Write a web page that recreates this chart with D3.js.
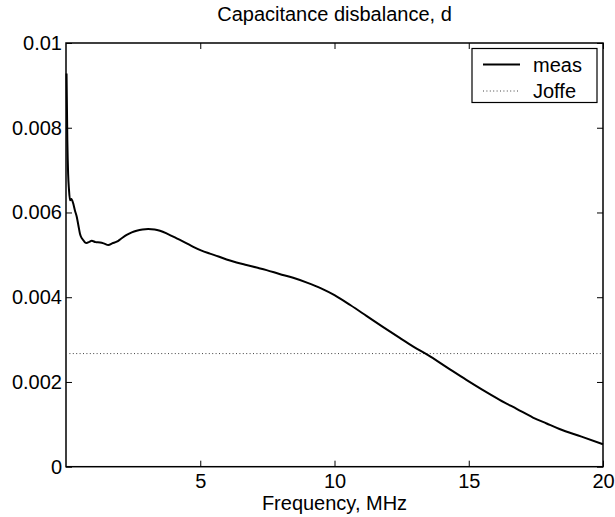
<!DOCTYPE html>
<html>
<head>
<meta charset="utf-8">
<script src="https://cdn.jsdelivr.net/npm/d3@7"></script>
<style>
  body { margin: 0; background: #fff; }
  text { font-family: "Liberation Sans", Arial, sans-serif; }
</style>
</head>
<body>
<svg id="chart" width="615" height="517"></svg>
<script>
// Measured capacitance disbalance vs frequency (MHz)
const freq = [0.02, 0.05, 0.08, 0.11, 0.15, 0.2, 0.27, 0.33, 0.4, 0.46, 0.52, 0.58, 0.64, 0.7, 0.77,
  0.85, 0.96, 1.1, 1.27, 1.4, 1.58, 1.72, 1.89, 2.05, 2.26, 2.45, 2.63, 2.85, 3.06, 3.3, 3.5, 3.8,
  4.12, 4.44, 4.74, 5.05, 5.36, 5.68, 5.98, 6.35, 6.72, 7.1, 7.47, 7.95, 8.46, 9.0, 9.5, 10.0,
  10.6, 11.19, 11.8, 12.43, 12.95, 13.47, 14.2, 14.91, 15.5, 16.15, 16.8, 17.39, 17.9, 18.38, 19.2, 20];
const meas = [0.00928, 0.0077, 0.0069, 0.00655, 0.00629, 0.00632, 0.00621, 0.00605, 0.0059, 0.0057,
  0.0055, 0.0054, 0.00535, 0.0053, 0.00528, 0.0053, 0.00533, 0.0053, 0.00529, 0.00527, 0.00523,
  0.00527, 0.00531, 0.00538, 0.00547, 0.00553, 0.00557, 0.0056, 0.00561, 0.0056, 0.00557, 0.00549,
  0.00539, 0.00529, 0.00519, 0.0051, 0.00503, 0.00496, 0.00489, 0.00482, 0.00476, 0.0047, 0.00464,
  0.00455, 0.00446, 0.00434, 0.00421, 0.00405, 0.00381, 0.00356, 0.0033, 0.00304, 0.00283, 0.00264,
  0.00234, 0.00205, 0.00182, 0.00158, 0.00136, 0.00116, 0.00102, 0.00089, 0.00071, 0.00053];
// Joffe estimate (constant)
const joffe = 0.00267;

const xTicks = [5, 10, 15, 20];
const yTicks = [0, 0.002, 0.004, 0.006, 0.008, 0.01];
const legendLabels = ['meas', 'Joffe'];

// Plot box
const pLeft = 66, pRight = 603, pTop = 43, pBottom = 466.7;

const svg = d3.select('#chart');

const x = d3.scaleLinear().domain([0, 20]).range([pLeft, pRight]);
const y = d3.scaleLinear().domain([0, 0.01]).range([pBottom, pTop]);

const fmtY = d => d === 0 ? '0' : String(+d.toFixed(3));

// Bottom axis (ticks pointing inward)
const gx = svg.append('g')
  .attr('transform', `translate(0,${pBottom})`)
  .call(d3.axisBottom(x).tickValues(xTicks).tickSizeInner(-6).tickSizeOuter(0).tickPadding(7));
// Top axis ticks only
const gxt = svg.append('g')
  .attr('transform', `translate(0,${pTop})`)
  .call(d3.axisTop(x).tickValues(xTicks).tickSizeInner(-6).tickSizeOuter(0).tickFormat(''));
// Left axis
const gy = svg.append('g')
  .attr('transform', `translate(${pLeft},0)`)
  .call(d3.axisLeft(y).tickValues(yTicks).tickSizeInner(-6).tickSizeOuter(0).tickPadding(4).tickFormat(fmtY));
// Right axis ticks only
const gyr = svg.append('g')
  .attr('transform', `translate(${pRight},0)`)
  .call(d3.axisRight(y).tickValues(yTicks).tickSizeInner(-6).tickSizeOuter(0).tickFormat(''));

[gx, gxt, gy, gyr].forEach(g => {
  g.select('.domain').remove();
  g.selectAll('line').attr('stroke', '#000').attr('stroke-width', 1);
  g.selectAll('text').attr('fill', '#000').style('font-size', '20px')
    .style('font-family', '"Liberation Sans", Arial, sans-serif');
});

// Box
svg.append('rect')
  .attr('x', pLeft).attr('y', pTop)
  .attr('width', pRight - pLeft).attr('height', pBottom - pTop)
  .attr('fill', 'none').attr('stroke', '#000').attr('stroke-width', 1.5);

// Joffe dotted line
svg.append('line')
  .attr('x1', x(0)).attr('x2', x(20))
  .attr('y1', y(joffe)).attr('y2', y(joffe))
  .attr('stroke', '#444').attr('stroke-width', 1)
  .attr('stroke-dasharray', '1,2.4');

// Measured curve (smoothed between read points)
const line = d3.line()
  .x((d, i) => x(freq[i]))
  .y(d => y(d))
  .curve(d3.curveMonotoneX);

svg.append('path')
  .datum(meas)
  .attr('fill', 'none')
  .attr('stroke', '#000')
  .attr('stroke-width', 2)
  .attr('stroke-linejoin', 'round')
  .attr('d', line);

// Title and x label
svg.append('text')
  .attr('x', (pLeft + pRight) / 2).attr('y', 21)
  .attr('text-anchor', 'middle')
  .style('font-size', '20px')
  .text('Capacitance disbalance, d');

svg.append('text')
  .attr('x', (pLeft + pRight) / 2).attr('y', 510)
  .attr('text-anchor', 'middle')
  .style('font-size', '20px')
  .text('Frequency, MHz');

// Legend
const lg = svg.append('g');
lg.append('rect')
  .attr('x', 472).attr('y', 48.5)
  .attr('width', 125).attr('height', 54)
  .attr('fill', '#fff').attr('stroke', '#000').attr('stroke-width', 1.2);

legendLabels.forEach((lab, i) => {
  const cy = 64.5 + i * 26.5;
  lg.append('line')
    .attr('x1', 483).attr('x2', 520)
    .attr('y1', cy).attr('y2', cy)
    .attr('stroke', i === 0 ? '#000' : '#444')
    .attr('stroke-width', i === 0 ? 2 : 1)
    .attr('stroke-dasharray', i === 0 ? null : '1,2.4');
  lg.append('text')
    .attr('x', 533).attr('y', cy + 7)
    .style('font-size', '20px')
    .text(lab);
});
</script>
</body>
</html>
